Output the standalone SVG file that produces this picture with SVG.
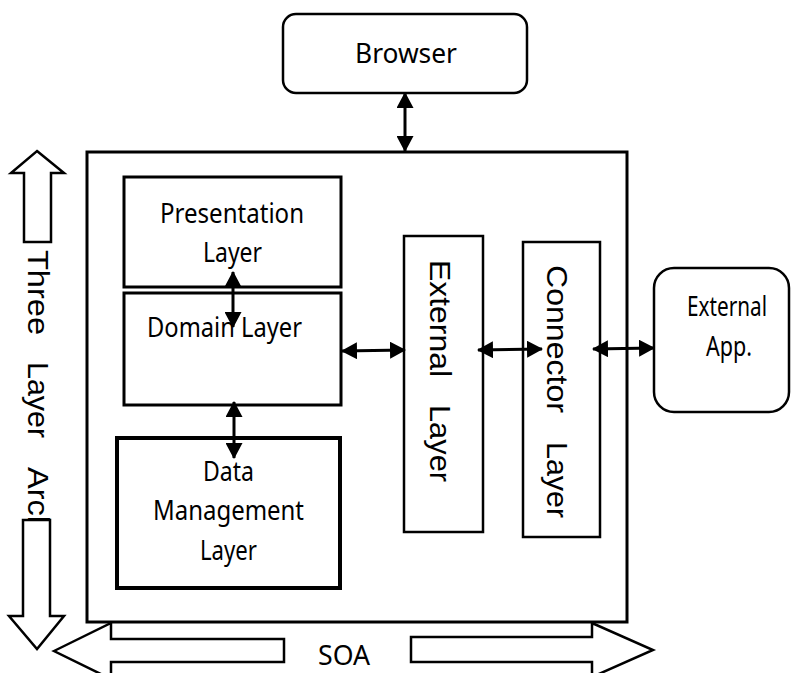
<svg xmlns="http://www.w3.org/2000/svg" width="791" height="673" viewBox="0 0 791 673">
  <style>
    .box { fill: #ffffff; stroke: #000000; stroke-width: 3; }
    .thick { stroke-width: 4; }
    .thin { stroke-width: 2.5; }
    .big { fill: #ffffff; stroke: #000000; stroke-width: 2.5; stroke-linejoin: miter; }
    .lbl { font-family: "Noto Sans", "Open Sans", sans-serif; font-size: 28px; fill: #000000; }
    .vlbl { font-family: "Liberation Sans", Arial, sans-serif; font-size: 29px; fill: #000000; }
    .conn { fill: none; stroke: #000000; stroke-width: 3; marker-start: url(#ah); marker-end: url(#ah); }
  </style>
  <defs>
    <marker id="ah" viewBox="0 0 16 17" refX="15" refY="8.5" markerWidth="16" markerHeight="17" markerUnits="userSpaceOnUse" orient="auto-start-reverse">
      <path d="M0,0 L16,8.5 L0,17 z" fill="#000000"/>
    </marker>
  </defs>
  <rect width="791" height="673" fill="#ffffff"/>

  <g id="system">
    <rect class="box" x="87" y="152" width="540" height="470"/>
  </g>

  <g id="browser">
    <rect class="box thin" x="283" y="14" width="244" height="79" rx="13"/>
    <text class="lbl" x="355" y="63" font-size="29" textLength="102" lengthAdjust="spacingAndGlyphs">Browser</text>
  </g>

  <g id="presentation">
    <rect class="box" x="124" y="177" width="217" height="110"/>
    <text class="lbl" x="160" y="223" textLength="144" lengthAdjust="spacingAndGlyphs">Presentation</text>
    <text class="lbl" x="203" y="262" textLength="59" lengthAdjust="spacingAndGlyphs">Layer</text>
  </g>

  <g id="domain">
    <rect class="box" x="124" y="293" width="217" height="112"/>
    <text class="lbl" x="147" y="337" textLength="155" lengthAdjust="spacingAndGlyphs">Domain Layer</text>
  </g>

  <g id="data">
    <rect class="box thick" x="117" y="438" width="223" height="150"/>
    <text class="lbl" x="203" y="481" textLength="51" lengthAdjust="spacingAndGlyphs">Data</text>
    <text class="lbl" x="153" y="520" textLength="151" lengthAdjust="spacingAndGlyphs">Management</text>
    <text class="lbl" x="200" y="560" textLength="57" lengthAdjust="spacingAndGlyphs">Layer</text>
  </g>

  <g id="external-layer">
    <rect class="box thin" x="404" y="236" width="79" height="296"/>
    <text class="vlbl" transform="rotate(90)"><tspan x="260" y="-430" textLength="117" lengthAdjust="spacingAndGlyphs">External</tspan><tspan x="405" y="-430" textLength="77" lengthAdjust="spacingAndGlyphs">Layer</tspan></text>
  </g>

  <g id="connector-layer">
    <rect class="box thin" x="523" y="242" width="77" height="295"/>
    <text class="vlbl" transform="rotate(90)"><tspan x="265" y="-547" textLength="148" lengthAdjust="spacingAndGlyphs">Connector</tspan><tspan x="442" y="-547" textLength="76" lengthAdjust="spacingAndGlyphs">Layer</tspan></text>
  </g>

  <g id="external-app">
    <rect class="box thin" x="654" y="268" width="135" height="144" rx="20"/>
    <text class="lbl" x="727" y="316" font-size="21" text-anchor="middle" textLength="80" lengthAdjust="spacingAndGlyphs">External</text>
    <text class="lbl" x="729" y="356" font-size="21" text-anchor="middle" textLength="46" lengthAdjust="spacingAndGlyphs">App.</text>
  </g>

  <g id="connectors">
    <path class="conn" d="M405,93 L405,151"/>
    <path class="conn" d="M233,272 L233,327"/>
    <path class="conn" d="M234,402 L234,458"/>
    <path class="conn" d="M342,351 L405,350"/>
    <path class="conn" d="M478,350 L542,349"/>
    <path class="conn" d="M593,349 L654,348"/>
  </g>

  <g id="three-layer-arch">
    <path class="big" d="M37,151 L64,173 L51,173 L51,242 L24,242 L24,173 L11,173 Z"/>
    <text class="vlbl" transform="rotate(90)"><tspan x="250" y="-28" textLength="85" lengthAdjust="spacingAndGlyphs">Three</tspan><tspan x="362" y="-28" textLength="76" lengthAdjust="spacingAndGlyphs">Layer</tspan><tspan x="467" y="-28" textLength="67" lengthAdjust="spacingAndGlyphs">Arch</tspan></text>
    <path class="big" d="M23,520 L50,520 L50,616 L64,616 L37,649 L9,616 L23,616 Z"/>
  </g>

  <g id="soa">
    <path class="big" d="M54,651 L111,623 L111,639 L284,639 L284,662 L111,662 L111,679 Z"/>
    <path class="big" d="M411,637 L592,637 L592,623 L653,650 L592,677 L592,662 L411,662 Z"/>
    <text class="lbl" x="318" y="665" font-size="27" textLength="52" lengthAdjust="spacingAndGlyphs">SOA</text>
  </g>
</svg>
